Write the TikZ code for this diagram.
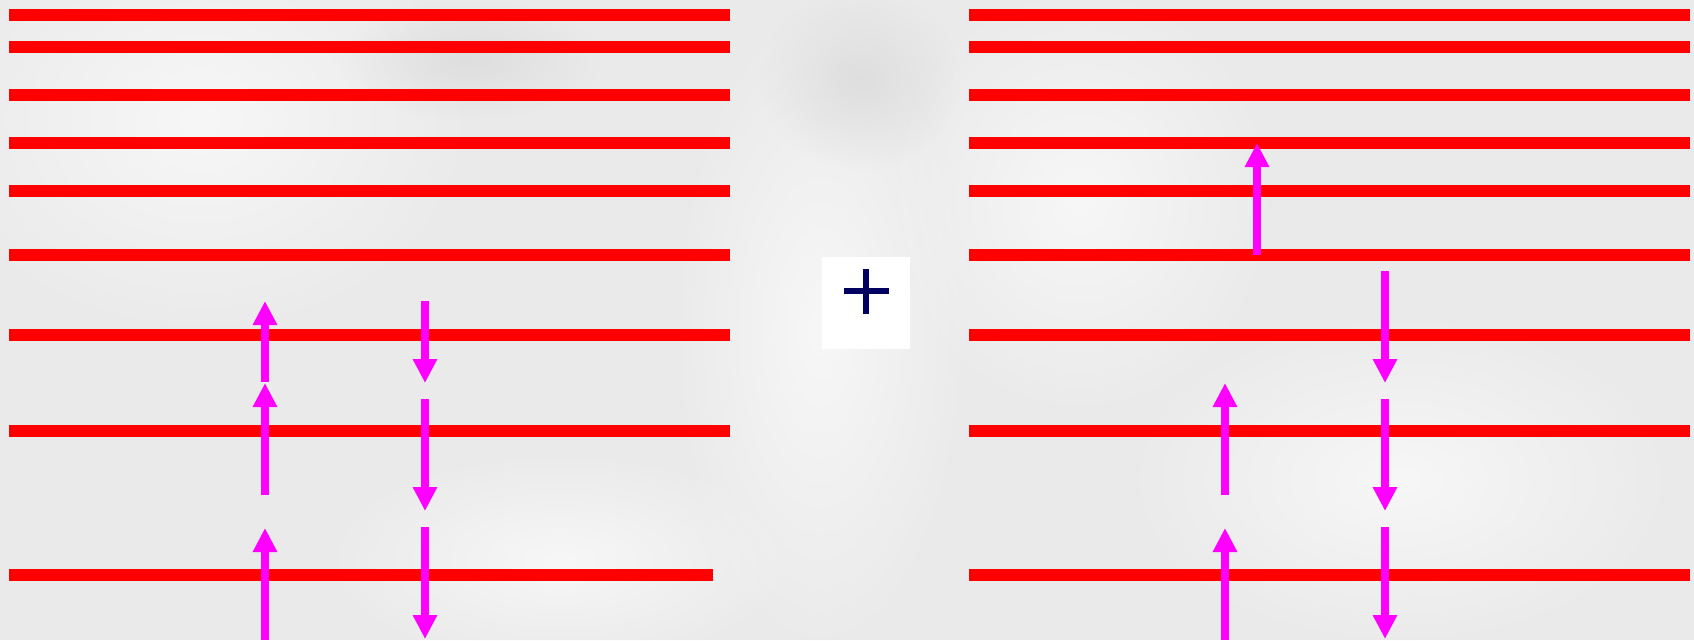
\documentclass[tikz,border=0pt]{standalone}
\usetikzlibrary{arrows.meta,fadings}
\tikzfading[name=softout, inner color=transparent!0, outer color=transparent!100]
\definecolor{bgc}{RGB}{234,234,234}
\definecolor{bgl}{RGB}{247,247,247}
\definecolor{bgd}{RGB}{222,222,222}
\definecolor{redl}{RGB}{255,0,0}
\definecolor{mag}{RGB}{255,0,255}
\definecolor{navy}{RGB}{0,0,96}
\tikzset{
  layer/.style={draw=redl, line width=12pt, line cap=butt},
  spinarrow/.style={draw=mag, line width=8pt, -{Triangle[width=23pt,length=24pt]}},
  plusbar/.style={draw=navy, line width=6pt},
  glow/.style={fill=bgl, path fading=softout},
  dusk/.style={fill=bgd, path fading=softout}
}
\begin{document}
\begin{tikzpicture}[x=1pt,y=-1pt]
\useasboundingbox (0,0) rectangle (1694,640);
% background
\fill[bgc] (0,0) rectangle (1694,640);
\fill[glow] (200,120) ellipse (280 and 220);
\fill[glow] (820,330) ellipse (150 and 330);
\fill[glow] (560,560) ellipse (240 and 110);
\fill[glow] (1080,200) ellipse (200 and 220);
\fill[glow] (1400,480) ellipse (280 and 170);
\fill[dusk] (860,80) ellipse (100 and 90);
\fill[dusk] (470,60) ellipse (130 and 60);
% left panel layers
\foreach \y in {15,47,95,143,191,255,335,431}
  \draw[layer] (9,\y) -- (730,\y);
\draw[layer] (9,575) -- (713,575);
% right panel layers
\foreach \y in {15,47,95,143,191,255,335,431,575}
  \draw[layer] (969,\y) -- (1690,\y);
% plus box
\node[fill=white, minimum width=88pt, minimum height=92pt, inner sep=0pt] (box) at (866,303) {};
\coordinate (pc) at (866,291);
\draw[plusbar] ([xshift=-22.5pt]pc) -- ([xshift=22.5pt]pc);
\draw[plusbar] ([yshift=-22.5pt]pc) -- ([yshift=22.5pt]pc);
% left panel arrows
\coordinate (lu1s) at (265,382); \coordinate (lu1e) at (265,301);
\coordinate (lu2s) at (265,495); \coordinate (lu2e) at (265,383);
\coordinate (lu3s) at (265,640); \coordinate (lu3e) at (265,528);
\coordinate (ld1s) at (425,301); \coordinate (ld1e) at (425,383);
\coordinate (ld2s) at (425,399); \coordinate (ld2e) at (425,511);
\coordinate (ld3s) at (425,527); \coordinate (ld3e) at (425,639);
\draw[spinarrow] (lu1s) -- (lu1e);
\draw[spinarrow] (lu2s) -- (lu2e);
\draw[spinarrow] (lu3s) -- (lu3e);
\draw[spinarrow] (ld1s) -- (ld1e);
\draw[spinarrow] (ld2s) -- (ld2e);
\draw[spinarrow] (ld3s) -- (ld3e);
% right panel arrows
\coordinate (ru1s) at (1257,255); \coordinate (ru1e) at (1257,143);
\coordinate (ru2s) at (1225,495); \coordinate (ru2e) at (1225,383);
\coordinate (ru3s) at (1225,640); \coordinate (ru3e) at (1225,528);
\coordinate (rd1s) at (1385,271); \coordinate (rd1e) at (1385,383);
\coordinate (rd2s) at (1385,399); \coordinate (rd2e) at (1385,511);
\coordinate (rd3s) at (1385,527); \coordinate (rd3e) at (1385,639);
\draw[spinarrow] (ru1s) -- (ru1e);
\draw[spinarrow] (ru2s) -- (ru2e);
\draw[spinarrow] (ru3s) -- (ru3e);
\draw[spinarrow] (rd1s) -- (rd1e);
\draw[spinarrow] (rd2s) -- (rd2e);
\draw[spinarrow] (rd3s) -- (rd3e);
\end{tikzpicture}
\end{document}
